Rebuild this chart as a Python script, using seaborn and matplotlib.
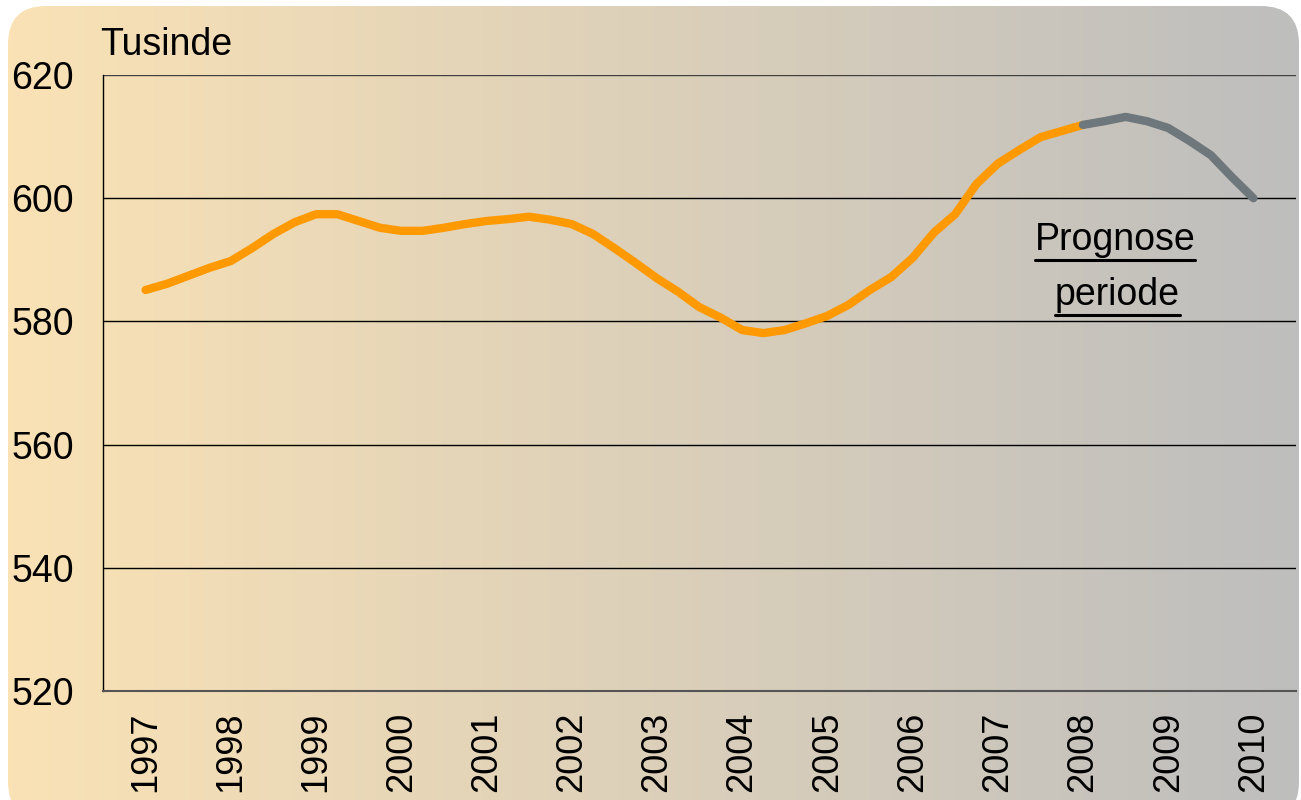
import numpy as np
import pandas as pd
import matplotlib.pyplot as plt
import seaborn as sns
from matplotlib.patches import FancyBboxPatch
from matplotlib.lines import Line2D
from matplotlib.transforms import IdentityTransform

# quarterly values, thousands
years = [1997, 1998, 1999, 2000, 2001, 2002, 2003, 2004, 2005, 2006, 2007, 2008, 2009, 2010]
actual = [585.1, 586.1, 587.4, 588.7, 589.8, 591.9, 594.2, 596.1,
          597.4, 597.4, 596.3, 595.2, 594.7, 594.7, 595.2, 595.8,
          596.3, 596.6, 597.0, 596.5, 595.8, 594.2, 591.9, 589.5,
          587.0, 584.8, 582.3, 580.6, 578.6, 578.1, 578.6, 579.7,
          580.9, 582.7, 585.1, 587.2, 590.3, 594.4, 597.4, 602.3,
          605.6, 607.8, 609.9, 610.9, 611.9]
forecast = [611.9, 612.5, 613.2, 612.5, 611.4, 609.3, 607.0, 603.4, 600.0]
y_ticks = [520, 540, 560, 580, 600, 620]

fonts = ["Liberation Sans", "DejaVu Sans"]

sns.set_style("white")
plt.rcParams["font.family"] = fonts
plt.rcParams["text.color"] = "black"
plt.rcParams["xtick.color"] = "black"
plt.rcParams["ytick.color"] = "black"

df_act = pd.DataFrame({"year": 1997 + np.arange(len(actual)) / 4, "value": actual})
df_fc = pd.DataFrame({"year": 2008 + np.arange(len(forecast)) / 4, "value": forecast})

fig = plt.figure(figsize=(13.01, 8), dpi=100)

# background panel with gradient
bg = fig.add_axes([0, 0, 1, 1], zorder=0)
bg.set_xlim(0, 1301)
bg.set_ylim(0, 800)
bg.axis("off")
grad = np.linspace(0, 1, 256)[None, :, None]
c0 = np.array([250, 226, 181]) / 255
c1 = np.array([190, 190, 190]) / 255
img = c0 * (1 - grad) + c1 * grad
im = bg.imshow(img, extent=[8, 1299, -20, 794], aspect="auto")
panel = FancyBboxPatch((8, -20), 1291, 814, boxstyle="round,pad=0,rounding_size=38",
                       facecolor="none", edgecolor="none")
bg.add_patch(panel)
im.set_clip_path(panel)

ax = fig.add_axes([103 / 1301, 1 - 691 / 800, 1193 / 1301, 616 / 800], zorder=1)
ax.patch.set_alpha(0)

sns.lineplot(data=df_act, x="year", y="value", ax=ax, color="#FF9900",
             linewidth=6, solid_capstyle="round", zorder=3)
sns.lineplot(data=df_fc, x="year", y="value", ax=ax, color="#6E777B",
             linewidth=6, solid_capstyle="round", zorder=3)

ax.set_xlim(1996.5, 2010.5)
ax.set_ylim(520, 620)
ax.set_xticks(years)
ax.set_xticklabels([str(y) for y in years], rotation=90, fontsize=26, va="top")
ax.set_yticks(y_ticks)
ax.set_yticklabels([str(v) for v in y_ticks], fontsize=27)
ax.tick_params(axis="x", length=0, pad=15)
ax.tick_params(axis="y", length=0, pad=21)
ax.set_xlabel("")
ax.set_ylabel("")

for v in y_ticks[1:]:
    ax.axhline(v, color="#000000" if v < 620 else "#404040", linewidth=1, zorder=1)

for s in ["top", "right"]:
    ax.spines[s].set_visible(False)
ax.spines["left"].set_color("black")
ax.spines["left"].set_linewidth(1)
ax.spines["bottom"].set_color("#555555")
ax.spines["bottom"].set_linewidth(1.5)

fig.text(100 / 1301, 1 - 55 / 800, "Tusinde", fontsize=27, ha="left", va="baseline")

# forecast label, underlined
t1 = fig.text(1115 / 1301, 1 - 250 / 800, "Prognose", fontsize=27,
              ha="center", va="baseline")
t2 = fig.text(1117 / 1301, 1 - 305 / 800, "periode", fontsize=27,
              ha="center", va="baseline")
fig.canvas.draw()
r = fig.canvas.get_renderer()
for t, yb in [(t1, 250), (t2, 305)]:
    bb = t.get_window_extent(r)
    y = 800 - (yb + 10)
    fig.add_artist(Line2D([bb.x0, bb.x1], [y, y], transform=IdentityTransform(),
                          color="black", linewidth=2.2, zorder=5))

fig.savefig("out.png", dpi=100)
plt.close(fig)
